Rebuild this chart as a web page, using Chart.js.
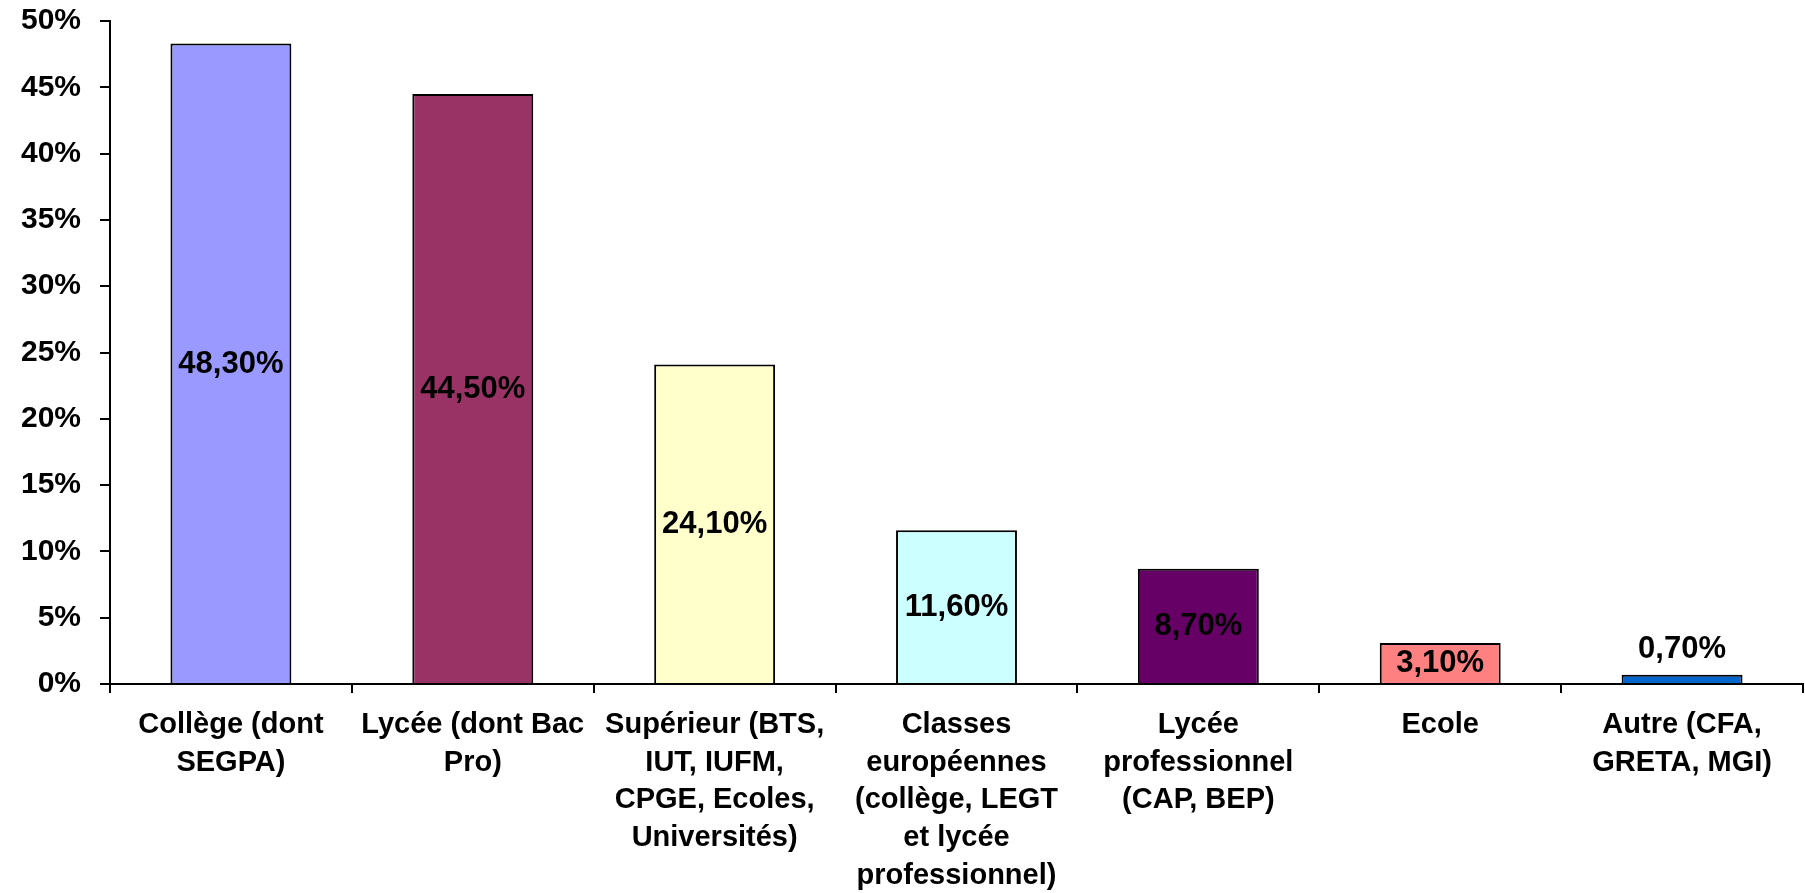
<!DOCTYPE html>
<html>
<head>
<meta charset="utf-8">
<script src="https://cdn.jsdelivr.net/npm/chart.js@4/dist/chart.umd.min.js"></script>
<style>
    html, body { margin: 0; padding: 0; background: #fff; }
    #wrap { width: 1805px; height: 893px; position: relative; }
</style>
</head>
<body>
<div id="wrap"><canvas id="chart"></canvas></div>
<script>
// Répartition par type d'établissement
const categories = [
    ['Collège (dont', 'SEGPA)'],
    ['Lycée (dont Bac', 'Pro)'],
    ['Supérieur (BTS,', 'IUT, IUFM,', 'CPGE, Ecoles,', 'Universités)'],
    ['Classes', 'européennes', '(collège, LEGT', 'et lycée', 'professionnel)'],
    ['Lycée', 'professionnel', '(CAP, BEP)'],
    ['Ecole'],
    ['Autre (CFA,', 'GRETA, MGI)']
];
const values = [48.3, 44.5, 24.1, 11.6, 8.7, 3.1, 0.7];
const barColors = ['#9999FF', '#993366', '#FFFFCC', '#CCFFFF', '#660066', '#FF8080', '#0066CC'];
const yTicks = [0, 5, 10, 15, 20, 25, 30, 35, 40, 45, 50];

const FONT = '"Liberation Sans", Arial, sans-serif';

function fmt(v) {
    return v.toFixed(2).replace('.', ',') + '%';
}

// data labels: centred in the bar, above it when the bar is too short
const barLabels = {
    id: 'barLabels',
    afterDatasetsDraw(chart) {
        const ctx = chart.ctx;
        const meta = chart.getDatasetMeta(0);
        ctx.save();
        ctx.font = 'bold 31px ' + FONT;
        ctx.fillStyle = '#000';
        ctx.textAlign = 'center';
        meta.data.forEach((bar, i) => {
            const h = bar.base - bar.y;
            if (h > 34) {
                ctx.textBaseline = 'middle';
                ctx.fillText(fmt(values[i]), bar.x, (bar.y + bar.base) / 2 + 1);
            } else {
                ctx.textBaseline = 'bottom';
                ctx.fillText(fmt(values[i]), bar.x, bar.y - 10);
            }
        });
        ctx.restore();
    }
};

new Chart(document.getElementById('chart'), {
    type: 'bar',
    data: {
        labels: categories,
        datasets: [{
            data: values,
            backgroundColor: barColors,
            borderColor: '#000',
            borderWidth: 2,
            categoryPercentage: 1,
            barPercentage: 0.5
        }]
    },
    options: {
        responsive: true,
        maintainAspectRatio: false,
        animation: false,
        layout: { padding: { top: 21, right: 2, left: 0, bottom: 0 } },
        plugins: {
            legend: { display: false },
            tooltip: { enabled: false }
        },
        scales: {
            x: {
                grid: {
                    drawOnChartArea: false,
                    drawTicks: true,
                    tickLength: 9,
                    color: '#000',
                    lineWidth: 2
                },
                border: { color: '#000', width: 2 },
                ticks: {
                    autoSkip: false,
                    maxRotation: 0,
                    minRotation: 0,
                    padding: 13,
                    color: '#000',
                    font: { family: FONT, size: 29, weight: 'bold', lineHeight: 1.3 }
                },
                afterFit(scale) { scale.height = 209; }
            },
            y: {
                min: 0,
                max: 50,
                afterBuildTicks(scale) {
                    scale.ticks = yTicks.map(v => ({ value: v }));
                },
                grid: {
                    drawOnChartArea: false,
                    drawTicks: true,
                    tickLength: 10,
                    color: '#000',
                    lineWidth: 2
                },
                border: { color: '#000', width: 2 },
                ticks: {
                    padding: 19,
                    color: '#000',
                    font: { family: FONT, size: 30, weight: 'bold' },
                    callback: v => v + '%'
                },
                afterFit(scale) {
                    scale.width = 110;
                    scale.paddingTop = 0;
                    scale.paddingBottom = 0;
                }
            }
        }
    },
    plugins: [barLabels]
});
</script>
</body>
</html>
